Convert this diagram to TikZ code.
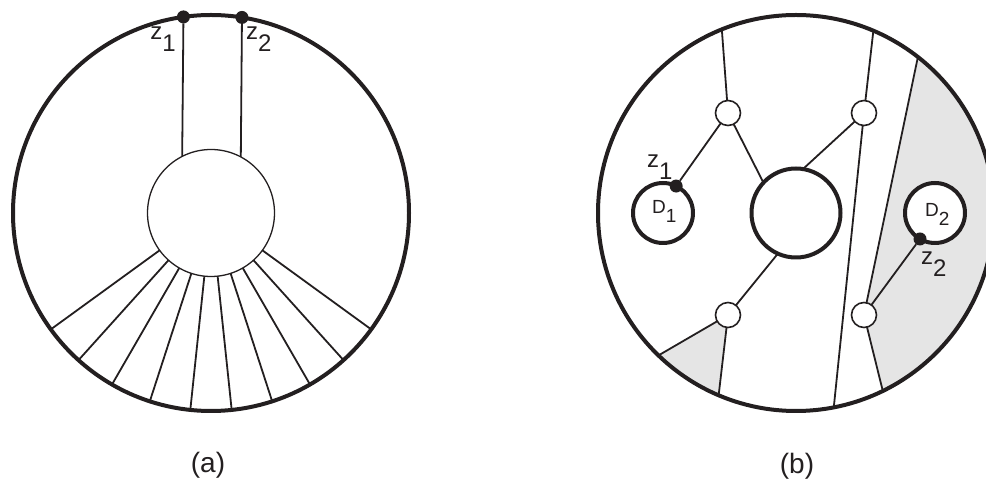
\documentclass[tikz,border=0pt]{standalone}
\usepackage{fontspec}
\setmainfont{Liberation Sans}
\usetikzlibrary{backgrounds}
\definecolor{tinta}{HTML}{231F20}
\definecolor{grisclaro}{HTML}{E5E5E5}
\colorlet{colBorde}{tinta}
\colorlet{colRegion}{grisclaro}
\newcommand{\conIndice}[2]{#1\raisebox{-.5em}{#2}}
\tikzset{
  bordeDisco/.style={circle, draw=colBorde, line width=4pt,
    minimum size=396pt, inner sep=0pt, outer sep=0pt},
  nucleo/.style={circle, draw=colBorde, line width=1.3pt, fill=white,
    minimum size=127pt, inner sep=0pt, outer sep=0pt},
  nucleoGrueso/.style={nucleo, line width=4pt, minimum size=89pt},
  agujero/.style={nucleo, line width=4pt, minimum size=60pt},
  vertice/.style={nucleo, line width=1.6pt, minimum size=25pt},
  punto/.style={circle, fill=colBorde, minimum size=13pt,
    inner sep=0pt, outer sep=0pt},
  arista/.style={draw=colBorde, line width=1.8pt},
  region/.style={fill=colRegion},
  etiqueta/.style={inner sep=0pt, text=colBorde, font=\fontsize{24}{26}\selectfont},
  etiquetaD/.style={etiqueta, font=\fontsize{19}{22}\selectfont},
  titulo/.style={inner sep=0pt, text=colBorde, font=\fontsize{28}{32}\selectfont},
}

\begin{document}
\begin{tikzpicture}[x=1pt, y=1pt]
  \useasboundingbox (0,0) rectangle (986,487);

  % (a)
  \node[bordeDisco] (rimA) at (211,274) {};
  \node[nucleo] (hubA) at (211,274) {};
  \node[punto] (z1a) at (rimA.98.4) {};
  \node[punto] (z2a) at (rimA.81.6) {};
  \draw[arista] (z1a) -- (hubA.117.4);
  \draw[arista] (z2a) -- (hubA.62.6);
  \foreach \ang in {-36,-48,...,-144}
    \draw[arista] (hubA.\ang) -- (rimA.\ang);
  \node[etiqueta, anchor=north east] (lz1a) at (176,460) {\conIndice{z}{1}};
  \node[etiqueta, anchor=north west] (lz2a) at (246,460) {\conIndice{z}{2}};
  \node[titulo] (tituloA) at (208,22) {(a)};

  % (b)
  \node[bordeDisco] (rimB) at (796,274) {};
  \node[nucleoGrueso] (hubB) at (796,274) {};
  \node[agujero] (huecoUno) at (663,274) {};
  \node[agujero] (huecoDos) at (935,274) {};
  \node[vertice] (v1) at (728,374) {};
  \node[vertice] (v2) at (864,374) {};
  \node[vertice] (v3) at (728,172) {};
  \node[vertice] (v4) at (864,172) {};
  \node[punto] (z1b) at (huecoUno.64) {};
  \node[punto] (z2b) at (huecoDos.-120) {};

  \draw[arista] (v1) -- (rimB.112.6);
  \draw[arista] (v1) -- (z1b);
  \draw[arista] (v1) -- (hubB.137);
  \draw[arista] (v2) -- (rimB.67.2);
  \draw[arista] (v2) -- (hubB.81);
  \draw[arista] (v2) -- (rimB.-79.5);
  \draw[arista] (v4) -- (rimB.52);
  \draw[arista] (v4) -- (z2b);
  \draw[arista] (v4) -- (rimB.-64.3);
  \draw[arista] (v3) -- (hubB.-114);
  \draw[arista] (v3) -- (rimB.-134.4);
  \draw[arista] (v3) -- (rimB.-113.3);

  \begin{scope}[on background layer]
    \fill[region] (v3.center) -- (rimB.-134.4)
      arc[start angle=-134.4, end angle=-113.3, radius=198] -- cycle;
    \fill[region] (v4.center) -- (rimB.-64.3)
      arc[start angle=-64.3, end angle=52, radius=198] -- cycle;
  \end{scope}

  \node[etiqueta, anchor=north west] (lz1b) at (647,332) {\conIndice{z}{1}};
  \node[etiqueta, anchor=north west] (lz2b) at (921,235) {\conIndice{z}{2}};
  \node[etiquetaD, anchor=north west] (lD1) at (652,287) {\conIndice{D}{1}};
  \node[etiquetaD, anchor=north west] (lD2) at (925,284) {\conIndice{D}{2}};
  \node[titulo] (tituloB) at (797,21) {(b)};
\end{tikzpicture}
\end{document}
